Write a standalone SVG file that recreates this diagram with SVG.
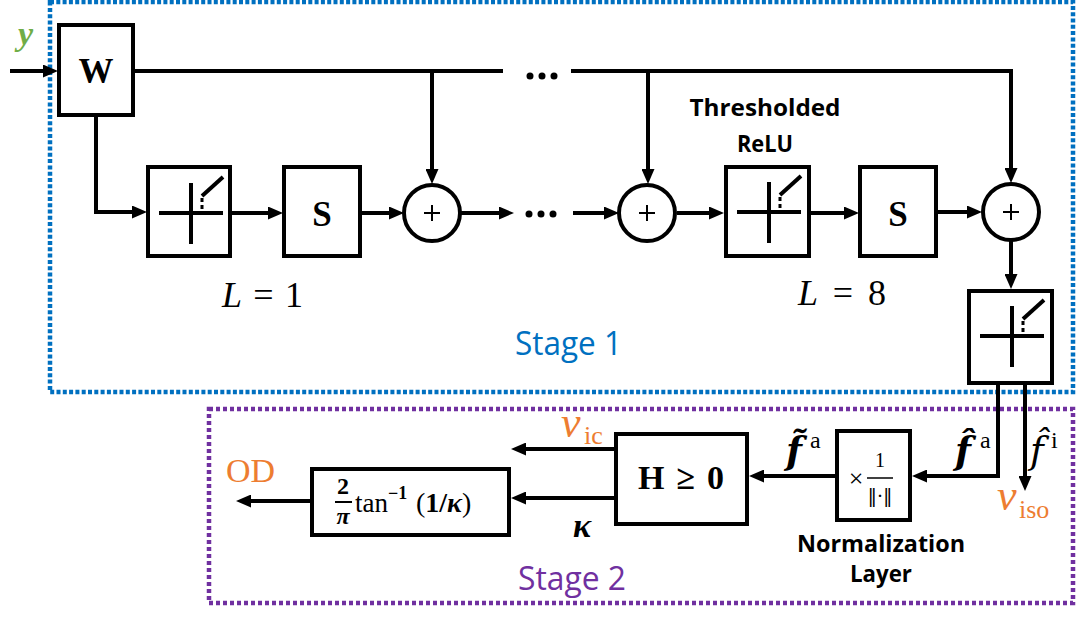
<svg xmlns="http://www.w3.org/2000/svg" width="1081" height="625" viewBox="0 0 1081 625">
<style>
.box{fill:#fff;stroke:#000;stroke-width:4}
.ln{fill:none;stroke:#000;stroke-width:4}
.arr{fill:none;stroke:#000;stroke-width:4;marker-end:url(#ah)}
.serif{font-family:"Liberation Serif","DejaVu Serif",serif}
.dserif{font-family:"DejaVu Serif",serif}
.sans{font-family:"Open Sans","Liberation Sans",sans-serif}
.bold{font-weight:bold}
.it{font-style:italic}
.up{font-style:normal;font-weight:normal}
.orange{fill:#ED7D31}
</style>
<defs>
<marker id="ah" markerUnits="userSpaceOnUse" markerWidth="15" markerHeight="13" refX="8" refY="6.5" orient="auto">
<path d="M0,0 L15,6.5 L0,13 z" fill="#000"/>
</marker>
<g id="relu">
<line x1="-32" y1="0" x2="32" y2="0" stroke="#000" stroke-width="4"/>
<line x1="0" y1="-30" x2="0" y2="31" stroke="#000" stroke-width="4"/>
<line x1="11" y1="-17" x2="32" y2="-36" stroke="#000" stroke-width="4"/>
<line x1="11" y1="-15" x2="11" y2="0" stroke="#000" stroke-width="3" stroke-dasharray="4 3"/>
</g>
<g id="plus">
<line x1="-8" y1="0" x2="8" y2="0" stroke="#000" stroke-width="2"/>
<line x1="0" y1="-8" x2="0" y2="8" stroke="#000" stroke-width="2"/>
</g>
</defs>
<rect width="1081" height="625" fill="#fff"/>

<g id="stage1">
<rect x="50" y="2" width="1023" height="390" fill="none" stroke="#0070C0" stroke-width="4.5" stroke-dasharray="4 2.3"/>
<text x="515" y="355" class="sans" font-size="32" fill="#0070C0" textLength="107" lengthAdjust="spacingAndGlyphs">Stage 1</text>
</g>
<g id="stage2">
<rect x="209" y="409" width="864" height="194" fill="none" stroke="#7030A0" stroke-width="4.5" stroke-dasharray="4 3"/>
<text x="518" y="590" class="sans" font-size="32" fill="#7030A0" textLength="108" lengthAdjust="spacingAndGlyphs">Stage 2</text>
</g>

<g id="connectors">
<line class="arr" x1="10" y1="71" x2="51" y2="71"/>
<polyline class="ln" points="135,71 503,71"/>
<polyline class="arr" points="571,71 1011,71 1011,176"/>
<line class="arr" x1="432" y1="71" x2="432" y2="177"/>
<line class="arr" x1="648" y1="71" x2="648" y2="177"/>
<polyline class="arr" points="96,117 96,212 140,212"/>
<line class="arr" x1="231" y1="213" x2="276" y2="213"/>
<line class="arr" x1="361" y1="213" x2="397" y2="213"/>
<line class="arr" x1="461" y1="213" x2="507" y2="213"/>
<line class="arr" x1="573" y1="213" x2="612" y2="213"/>
<line class="arr" x1="677" y1="213" x2="717" y2="213"/>
<line class="arr" x1="811" y1="213" x2="852" y2="213"/>
<line class="arr" x1="938" y1="212" x2="975" y2="212"/>
<line class="arr" x1="1011" y1="241" x2="1011" y2="282"/>
<polyline class="arr" points="998,385 998,476 919,476"/>
<line class="arr" x1="1025" y1="385" x2="1025" y2="484"/>
<line class="arr" x1="835" y1="476" x2="756" y2="476"/>
<line class="arr" x1="614" y1="449" x2="518" y2="449"/>
<line class="arr" x1="614" y1="498" x2="518" y2="498"/>
<line class="arr" x1="310" y1="501" x2="243" y2="501"/>
<circle cx="530" cy="76" r="3.5"/><circle cx="542" cy="76" r="3.5"/><circle cx="554" cy="76" r="3.5"/>
<circle cx="529" cy="214" r="3.5"/><circle cx="541" cy="214" r="3.5"/><circle cx="553" cy="214" r="3.5"/>
</g>

<text x="18" y="45" class="serif bold it" font-size="34" fill="#70AD47">y</text>

<g id="W">
<rect class="box" x="59" y="25" width="74" height="90"/>
<text x="96" y="83" class="serif bold" font-size="35" text-anchor="middle">W</text>
</g>
<g id="relu1">
<rect class="box" x="148" y="167" width="82" height="89"/>
<use href="#relu" x="191" y="213"/>
</g>
<g id="S1">
<rect class="box" x="284" y="167" width="76" height="89"/>
<text x="322" y="226" class="serif bold" font-size="35" text-anchor="middle">S</text>
</g>
<g id="sum1">
<circle cx="432" cy="213" r="28" class="box"/>
<use href="#plus" x="432" y="213"/>
</g>
<g id="sum2">
<circle cx="647" cy="213" r="28" class="box"/>
<use href="#plus" x="647" y="213"/>
</g>
<g id="relu2">
<rect class="box" x="726" y="167" width="83" height="89"/>
<use href="#relu" x="769" y="212"/>
</g>
<g id="S2">
<rect class="box" x="860" y="167" width="76" height="89"/>
<text x="898" y="226" class="serif bold" font-size="35" text-anchor="middle">S</text>
</g>
<g id="sum3">
<circle cx="1011" cy="212" r="28" class="box"/>
<use href="#plus" x="1011" y="212"/>
</g>
<g id="relu3">
<rect class="box" x="969" y="291" width="83" height="92"/>
<use href="#relu" x="1012" y="336"/>
</g>

<g id="labels1">
<text x="765" y="116" class="sans bold" font-size="24" text-anchor="middle" textLength="151" lengthAdjust="spacingAndGlyphs">Thresholded</text>
<text x="765" y="152" class="sans bold" font-size="24" text-anchor="middle" textLength="56" lengthAdjust="spacingAndGlyphs">ReLU</text>
<text x="222" y="307" class="serif" font-size="36" textLength="81" lengthAdjust="spacing"><tspan class="it">L</tspan> = 1</text>
<text x="798" y="305" class="serif" font-size="36" textLength="88" lengthAdjust="spacing"><tspan class="it">L</tspan> = 8</text>
</g>

<g id="norm">
<rect class="box" x="837" y="431" width="73" height="89"/>
<text x="856" y="487" class="serif" font-size="26" text-anchor="middle">×</text>
<text x="880" y="467" class="serif" font-size="20" text-anchor="middle">1</text>
<line x1="867" y1="478" x2="893" y2="478" stroke="#000" stroke-width="1.5"/>
<text x="880" y="502" font-family="DejaVu Serif,serif" font-size="19" text-anchor="middle">‖·‖</text>
<text x="881" y="552" class="sans bold" font-size="24" text-anchor="middle" textLength="168" lengthAdjust="spacingAndGlyphs">Normalization</text>
<text x="881" y="582" class="sans bold" font-size="24" text-anchor="middle" textLength="62" lengthAdjust="spacingAndGlyphs">Layer</text>
</g>

<g id="H">
<rect class="box" x="616" y="434" width="131" height="90"/>
<text x="681" y="489" class="serif bold" font-size="34" text-anchor="middle" textLength="86" lengthAdjust="spacing">H ≥ 0</text>
</g>

<g id="tanbox">
<rect class="box" x="312" y="469" width="197" height="66"/>
<text x="343" y="494" class="serif bold" font-size="24" text-anchor="middle">2</text>
<line x1="335" y1="502" x2="352" y2="502" stroke="#000" stroke-width="2"/>
<text x="343" y="524" class="serif bold it" font-size="24" text-anchor="middle">π</text>
<text x="355" y="512" class="serif" font-size="27">tan<tspan class="bold" font-size="18" dy="-13">−1</tspan><tspan x="416" dy="13" font-size="28">(<tspan class="bold">1/</tspan><tspan class="bold it">κ</tspan>)</tspan></text>
</g>

<g id="labels2">
<text x="226" y="482" class="serif orange" font-size="34">OD</text>
<text x="561" y="437" class="serif it orange" font-size="44">v<tspan class="up" x="584" y="444" font-size="26">ic</tspan></text>
<text x="573" y="537" class="serif bold it" font-size="34">κ</text>
<text x="786" y="463" class="dserif bold it" font-size="37">f̃<tspan class="serif up" x="810" y="448" font-size="24">a</tspan></text>
<text x="955" y="463" class="dserif bold it" font-size="37">f̂<tspan class="serif up" x="980" y="448" font-size="24">a</tspan></text>
<text x="1030" y="463" class="dserif it" font-size="37">f̂<tspan class="serif up" x="1051" y="448" font-size="24">i</tspan></text>
<text x="997" y="510" class="serif it orange" font-size="44">v<tspan class="up" x="1019" y="518" font-size="26">iso</tspan></text>
</g>
</svg>
